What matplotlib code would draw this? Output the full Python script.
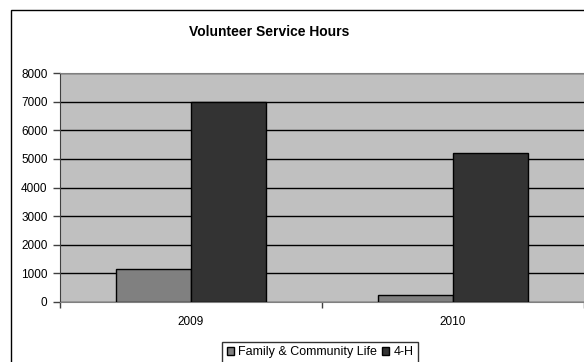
import matplotlib
matplotlib.use('Agg')
import matplotlib.pyplot as plt
from matplotlib.patches import Rectangle
import numpy as np

#######################################################################
# Data

years = ['2009', '2010']
family_community = [1150, 240]
four_h = [7000, 5200]
series_names = ['Family & Community Life', '4-H']
y_ticks = [0, 1000, 2000, 3000, 4000, 5000, 6000, 7000, 8000]

#######################################################################
# Plotting

plt.rcParams['font.family'] = ['Liberation Sans', 'DejaVu Sans']

W, H = 584, 362
fig = plt.figure(figsize=(W / 100, H / 100), dpi=100)

# outer chart frame (runs off the right and bottom edges)
fig.patches.append(Rectangle((11 / W, -0.1), 1.0, 1 - 10 / H + 0.1,
                             transform=fig.transFigure, fill=False,
                             edgecolor='black', linewidth=1.0))

ax = fig.add_axes([60 / W, (H - 302) / H, (584 - 60) / W, (302 - 73) / H])
ax.set_facecolor('#c0c0c0')

x = np.arange(len(years))
width = 0.288
b1 = ax.bar(x - width / 2, family_community, width, color='#808080',
            edgecolor='black', linewidth=1.0, label=series_names[0], zorder=3)
b2 = ax.bar(x + width / 2, four_h, width, color='#333333',
            edgecolor='black', linewidth=1.0, label=series_names[1], zorder=3)

ax.set_xlim(-0.5, len(years) - 0.5)
ax.set_ylim(0, 8000)
ax.set_yticks(y_ticks)
ax.yaxis.grid(True, color='black', linewidth=1.0, zorder=1)
ax.set_axisbelow(True)

# category ticks sit between groups, labels centred on each group
ax.set_xticks(np.arange(len(years) + 1) - 0.5)
ax.set_xticklabels([])
ax.set_xticks(x, minor=True)
ax.set_xticklabels(years, minor=True)
ax.tick_params(axis='x', which='minor', length=0, pad=10, labelsize=8.5)
ax.tick_params(axis='x', which='major', length=4, width=1, color='#404040')
ax.tick_params(axis='y', length=5, width=1, color='#404040', labelsize=8.5, pad=4)

for side in ['top', 'bottom']:
    ax.spines[side].set_color('#808080')
ax.spines['left'].set_color('#404040')
ax.spines['right'].set_visible(False)

fig.text(269 / W, 1 - 32 / H, 'Volunteer Service Hours', ha='center',
         va='center', fontsize=10, fontweight='bold')

leg = fig.legend(handles=[b1, b2], loc='upper center',
                 bbox_to_anchor=(320 / W, 1 - 342 / H), ncol=2,
                 fontsize=9, frameon=True, fancybox=False, edgecolor='black',
                 handlelength=0.6, handleheight=0.6, handletextpad=0.35,
                 columnspacing=0.35, borderpad=0.35, borderaxespad=0)
leg.get_frame().set_linewidth(1.0)

fig.savefig('out.png', dpi=100)
